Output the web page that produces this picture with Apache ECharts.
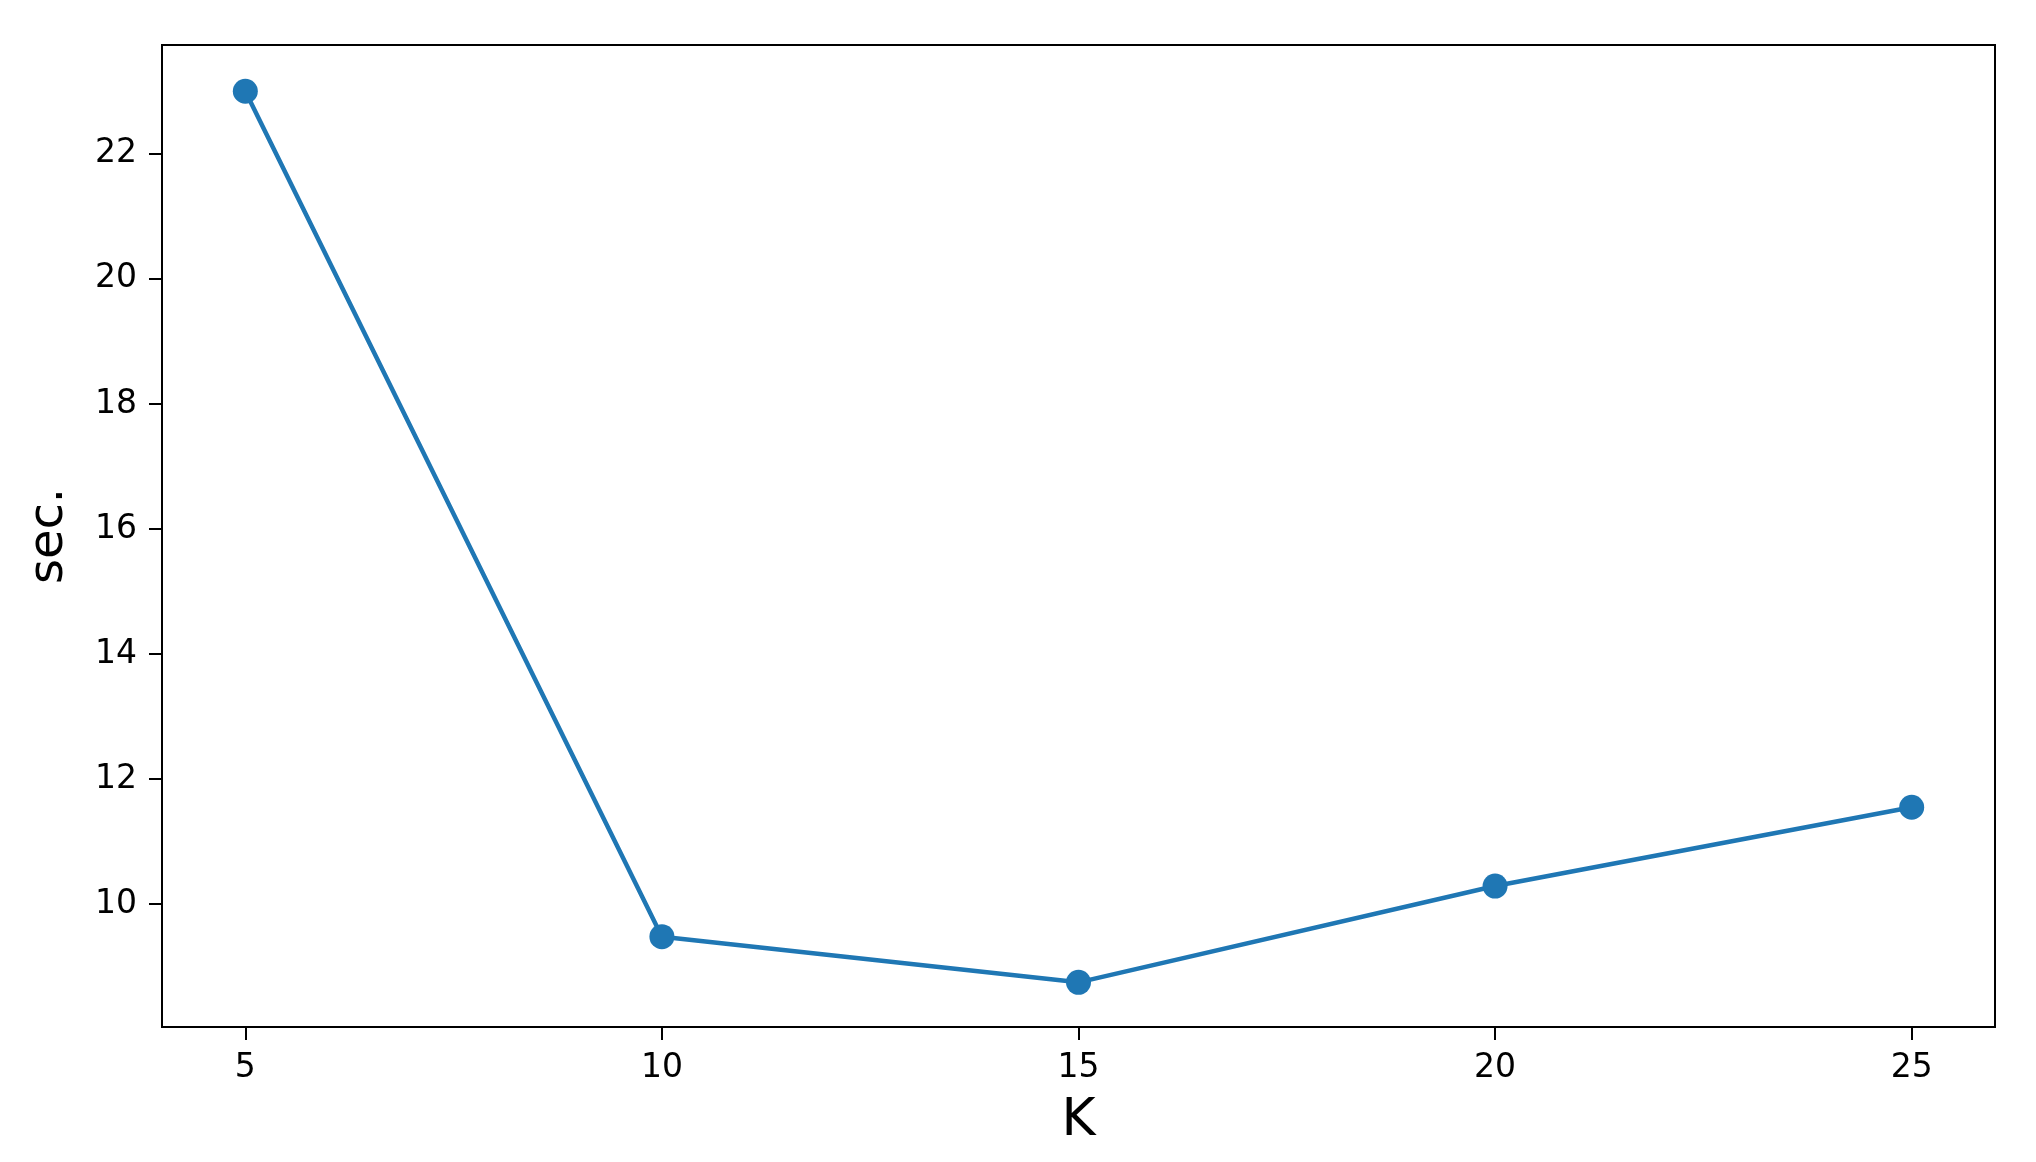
<!DOCTYPE html>
<html>
<head>
<meta charset="utf-8">
<script src="https://cdn.jsdelivr.net/npm/echarts@6/dist/echarts.min.js"></script>
<style>
html,body{margin:0;padding:0;background:#fff;}
#chart{width:2036px;height:1162px;}
</style>
</head>
<body>
<div id="chart"></div>
<script>
const kValues = [5, 10, 15, 20, 25];
const secValues = [23.0, 9.48, 8.75, 10.29, 11.55];
const xTicks = [5, 10, 15, 20, 25];
const yTicks = [10, 12, 14, 16, 18, 20, 22];

const chart = echarts.init(document.getElementById('chart'));
const font = 'DejaVu Sans';
chart.setOption({
  animation: false,
  backgroundColor: '#fff',
  grid: {
    left: 162, right: 41, top: 45, bottom: 135,
    show: true, borderColor: '#000', borderWidth: 2, backgroundColor: 'transparent'
  },
  xAxis: {
    type: 'value', min: 4, max: 26,
    name: 'K', nameLocation: 'middle', nameGap: 68,
    nameTextStyle: { fontFamily: font, fontSize: 52, color: '#000' },
    axisLine: { show: true, lineStyle: { color: '#000', width: 2 } },
    axisTick: { show: true, length: 13, lineStyle: { color: '#000', width: 2 }, customValues: xTicks },
    axisLabel: { fontFamily: font, fontSize: 33, color: '#000', margin: 25, customValues: xTicks },
    splitLine: { show: false }
  },
  yAxis: {
    type: 'value', min: 8.036, max: 23.74,
    name: 'sec.', nameLocation: 'middle', nameGap: 88,
    nameTextStyle: { fontFamily: font, fontSize: 48, color: '#000' },
    axisLine: { show: true, lineStyle: { color: '#000', width: 2 } },
    axisTick: { show: true, length: 13, lineStyle: { color: '#000', width: 2 }, customValues: yTicks },
    axisLabel: { fontFamily: font, fontSize: 33, color: '#000', margin: 25, customValues: yTicks },
    splitLine: { show: false }
  },
  series: [{
    type: 'line',
    data: kValues.map((k, i) => [k, secValues[i]]),
    symbol: 'circle', symbolSize: 25,
    lineStyle: { color: '#1f77b4', width: 4.5 },
    itemStyle: { color: '#1f77b4' }
  }]
});
</script>
</body>
</html>
